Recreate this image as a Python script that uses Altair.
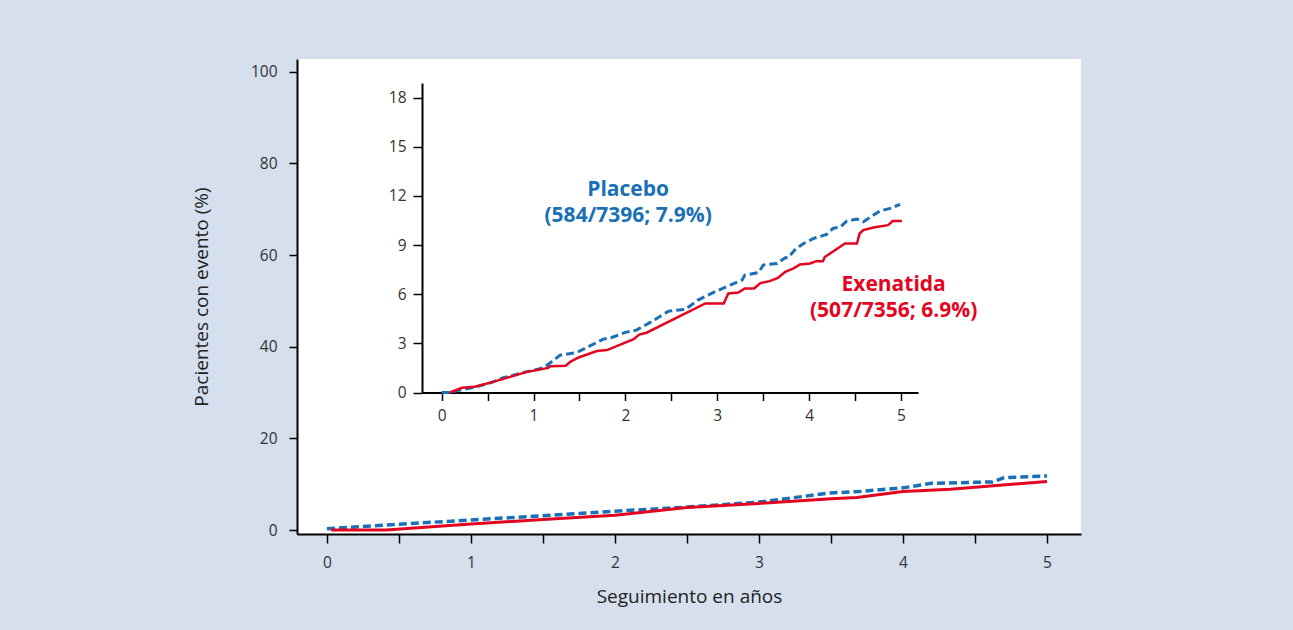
import altair as alt
import pandas as pd

# ---------------- data ----------------
# Main chart (0-100 %)
main_years_placebo = [0.0, 0.5, 1.0, 1.5, 2.0, 2.5, 3.0, 3.5, 3.7, 4.0, 4.2, 4.5, 4.62, 4.7, 5.0]
main_pct_placebo = [0.3, 1.25, 2.2, 3.1, 4.1, 5.0, 6.1, 8.1, 8.4, 9.2, 10.2, 10.4, 10.5, 11.4, 11.8]
main_years_exen = [0.03, 0.41, 1.0, 1.5, 2.0, 2.5, 3.0, 3.5, 3.68, 4.0, 4.33, 5.0]
main_pct_exen = [0.0, 0.0, 1.3, 2.3, 3.2, 4.9, 5.8, 6.8, 7.1, 8.4, 8.9, 10.6]

# Inset (0-18 %)
inset_years_placebo = [0.0, 0.09, 0.24, 0.38, 0.53, 0.67, 0.89, 1.07, 1.14, 1.29, 1.47, 1.76, 1.85,
                       2.0, 2.12, 2.27, 2.47, 2.65, 2.79, 2.96, 3.14, 3.27, 3.30, 3.45, 3.50, 3.65,
                       3.74, 3.77, 3.86, 3.94, 4.05, 4.19, 4.26, 4.34, 4.41, 4.52, 4.59, 4.77, 4.88, 4.99]
inset_pct_placebo = [0.0, 0.0, 0.2, 0.35, 0.59, 0.9, 1.22, 1.45, 1.63, 2.28, 2.44, 3.26, 3.36,
                     3.67, 3.81, 4.28, 4.97, 5.07, 5.64, 6.11, 6.56, 6.86, 7.17, 7.33, 7.78, 7.88,
                     8.23, 8.23, 8.8, 9.1, 9.41, 9.65, 10.02, 10.12, 10.47, 10.59, 10.43, 11.08, 11.24, 11.49]
inset_years_exen = [0.09, 0.22, 0.36, 0.56, 0.93, 1.16, 1.18, 1.35, 1.40, 1.49, 1.69, 1.80, 2.09, 2.15,
                    2.23, 2.87, 3.07, 3.12, 3.23, 3.30, 3.40, 3.47, 3.57, 3.66, 3.74, 3.83, 3.90,
                    4.01, 4.08, 4.15, 4.17, 4.39, 4.52, 4.55, 4.59, 4.70, 4.86, 4.91, 5.01]
inset_pct_exen = [0.0, 0.29, 0.35, 0.65, 1.26, 1.5, 1.6, 1.63, 1.87, 2.14, 2.53, 2.59, 3.26, 3.54,
                  3.65, 5.44, 5.44, 6.05, 6.11, 6.35, 6.35, 6.68, 6.80, 7.0, 7.37, 7.58, 7.82,
                  7.88, 8.02, 8.02, 8.27, 9.1, 9.1, 9.71, 9.92, 10.08, 10.22, 10.47, 10.47]

# Annotations (inset coordinates)
placebo_text = ["Placebo", "(584/7396; 7.9%)"]
placebo_text_x = [2.03, 2.03]
placebo_text_y = [12.36, 10.78]
exen_text = ["Exenatida", "(507/7356; 6.9%)"]
exen_text_x = [4.92, 4.92]
exen_text_y = [6.56, 4.98]

main_x_ticks = [0, 0.5, 1, 1.5, 2, 2.5, 3, 3.5, 4, 4.5, 5]
main_y_ticks = [0, 20, 40, 60, 80, 100]
inset_x_ticks = [0, 0.5, 1, 1.5, 2, 2.5, 3, 3.5, 4, 4.5, 5]
inset_y_ticks = [0, 3, 6, 9, 12, 15, 18]

BLUE = "#1a70b6"
RED = "#e3051f"
BG = "#d5dfee"
FONT = "Open Sans"

df_mp = pd.DataFrame({"year": main_years_placebo, "pct": main_pct_placebo})
df_me = pd.DataFrame({"year": main_years_exen, "pct": main_pct_exen})
df_ip = pd.DataFrame({"year": inset_years_placebo, "pct": inset_pct_placebo})
df_ie = pd.DataFrame({"year": inset_years_exen, "pct": inset_pct_exen})
df_tp = pd.DataFrame({"year": placebo_text_x, "pct": placebo_text_y, "txt": placebo_text})
df_te = pd.DataFrame({"year": exen_text_x, "pct": exen_text_y, "txt": exen_text})

int_label = "datum.value % 1 === 0 ? format(datum.value, 'd') : ''"

# ---------------- main chart encodings ----------------
mx = alt.X(
    "year:Q",
    scale=alt.Scale(domain=[-0.208, 5.236], nice=False, zero=False),
    axis=alt.Axis(
        orient="bottom", values=main_x_ticks, labelExpr=int_label, grid=False,
        tickSize=9, tickWidth=1.5, tickColor="black", domainColor="black", domainWidth=2,
        labelFontSize=15.5, labelColor="#333333", labelFont=FONT, labelPadding=12,
        title="Seguimiento en años", titleFont=FONT, titleFontSize=19,
        titleFontWeight="normal", titleColor="#222222", titlePadding=17,
    ),
)
my = alt.Y(
    "pct:Q",
    scale=alt.Scale(domain=[-0.87, 102.8], nice=False, zero=False),
    axis=alt.Axis(
        orient="left", values=main_y_ticks, grid=False,
        tickSize=8, tickWidth=1.5, tickColor="black", domainColor="black", domainWidth=2,
        labelFontSize=15.5, labelColor="#333333", labelFont=FONT, labelPadding=12,
        title="Pacientes con evento (%)", titleFont=FONT, titleFontSize=19,
        titleFontWeight="normal", titleColor="#222222", titlePadding=39,
    ),
)

main_blue = alt.Chart(df_mp).mark_line(color=BLUE, strokeWidth=3.5, strokeDash=[8, 4]).encode(x=mx, y=my)
main_red = alt.Chart(df_me).mark_line(color=RED, strokeWidth=3).encode(x=mx, y=my)
main_layer = alt.layer(main_blue, main_red)

# ---------------- inset encodings ----------------
ix = alt.X(
    "year:Q",
    scale=alt.Scale(domain=[-0.214, 5.185], range=[125, 621], nice=False, zero=False),
    axis=alt.Axis(
        orient="bottom", offset=-141.5, values=inset_x_ticks, labelExpr=int_label, grid=False,
        tickSize=8, tickWidth=1.5, tickColor="black", domainColor="black", domainWidth=2,
        labelFontSize=15.5, labelColor="#333333", labelFont=FONT, labelPadding=8,
        title=None,
    ),
)
iy = alt.Y(
    "pct:Q",
    scale=alt.Scale(domain=[0, 18.9], range=[333.5, 24], nice=False, zero=False),
    axis=alt.Axis(
        orient="left", offset=-125, values=inset_y_ticks, grid=False,
        tickSize=9, tickWidth=1.5, tickColor="black", domainColor="black", domainWidth=2,
        labelFontSize=15.5, labelColor="#333333", labelFont=FONT, labelPadding=7,
        title=None,
    ),
)

inset_blue = alt.Chart(df_ip).mark_line(color=BLUE, strokeWidth=3, strokeDash=[8, 4]).encode(x=ix, y=iy)
inset_red = alt.Chart(df_ie).mark_line(color=RED, strokeWidth=2.5).encode(x=ix, y=iy)
txt_p = alt.Chart(df_tp).mark_text(
    color=BLUE, font=FONT, fontSize=21, fontWeight="bold", align="center", baseline="middle"
).encode(x=ix, y=iy, text="txt:N")
txt_e = alt.Chart(df_te).mark_text(
    color=RED, font=FONT, fontSize=21, fontWeight="bold", align="center", baseline="middle"
).encode(x=ix, y=iy, text="txt:N")
inset_layer = alt.layer(inset_blue, inset_red, txt_p, txt_e)

chart = (
    alt.layer(main_layer, inset_layer)
    .resolve_scale(x="independent", y="independent")
    .properties(
        width=784,
        height=475,
        background=BG,
        padding={"left": 297, "top": 59, "right": 212, "bottom": 96},
        autosize=alt.AutoSizeParams(type="none"),
    )
    .configure_view(fill="white", stroke=None)
)

chart.save("out.html", embed_options={"renderer": "svg", "actions": False})
